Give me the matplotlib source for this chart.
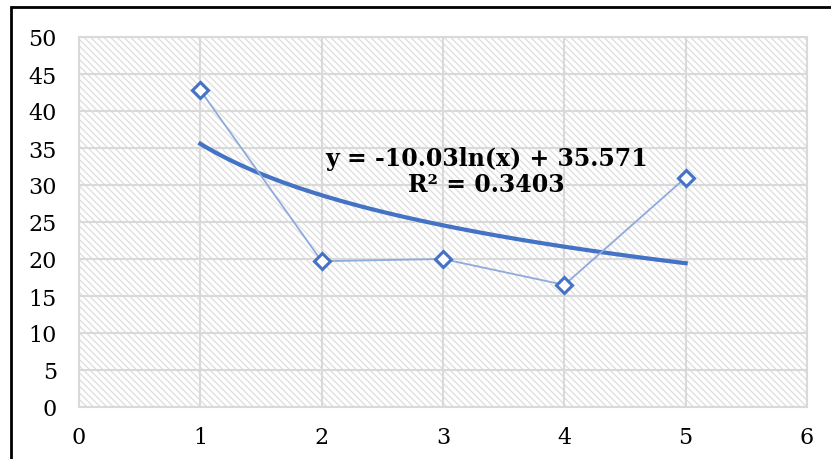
import numpy as np
import matplotlib
matplotlib.use('Agg')
import matplotlib.pyplot as plt
from matplotlib.patches import Rectangle

# data
x_vals = [1, 2, 3, 4, 5]
y_vals = [42.8, 19.7, 20.0, 16.5, 31.0]
trend_a = -10.03   # y = a*ln(x) + b
trend_b = 35.571
r2 = 0.3403
x_ticks = [0, 1, 2, 3, 4, 5, 6]
y_ticks = [0, 5, 10, 15, 20, 25, 30, 35, 40, 45, 50]

plt.rcParams['font.family'] = ['DejaVu Serif']
plt.rcParams['hatch.linewidth'] = 1.0
plt.rcParams['hatch.color'] = '#e0e0e0'

fig = plt.figure(figsize=(8.31, 4.6), dpi=100)
ax = fig.add_axes([79/831, 1-408/460, (807-79)/831, (408-38)/460])

# hatched plot area
ax.add_patch(Rectangle((0, 0), 1, 1, transform=ax.transAxes, facecolor='white',
                       edgecolor='#e0e0e0', hatch='\\\\\\\\\\', lw=0, zorder=0))

ax.plot(x_vals, y_vals, color='#8faadc', lw=1.3, marker='D', ms=8,
        mfc='white', mec='#4472c4', mew=2.2, zorder=3)

xt = np.linspace(1, 5, 100)
ax.plot(xt, trend_a*np.log(xt) + trend_b, color='#4472c4', lw=3, zorder=2)

ax.text(3.36, 31.9, 'y = -10.03ln(x) + 35.571\nR² = 0.3403', ha='center', va='center',
        fontsize=17, fontweight='bold', linespacing=1.15, zorder=4)

ax.set_xlim(0, 6)
ax.set_ylim(0, 50)
ax.set_xticks(x_ticks)
ax.set_yticks(y_ticks)
ax.tick_params(length=0, labelsize=16)
ax.tick_params(axis='x', pad=14)
ax.tick_params(axis='y', pad=16)
ax.grid(True, color='#d9d9d9', lw=1.5, zorder=1)
ax.set_axisbelow(True)
for s in ax.spines.values():
    s.set_color('#d9d9d9')
    s.set_linewidth(1.5)

# outer chart border (cut off at right and bottom)
fig.add_artist(Rectangle((11/831, -0.1), 1.1, 1 - 8/460 + 0.1, transform=fig.transFigure,
                         fill=False, edgecolor='black', lw=2))

fig.savefig('out.png', dpi=100)
